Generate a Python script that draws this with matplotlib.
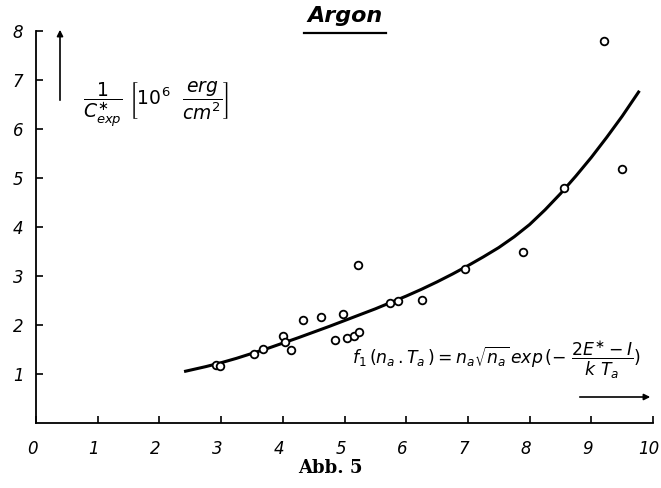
import numpy as np
import matplotlib
matplotlib.use('Agg')
import matplotlib.pyplot as plt
import matplotlib.transforms as mtransforms
from matplotlib.lines import Line2D

# measured points (open circles)
x_pts = [2.92, 2.98, 3.53, 3.68, 4.00, 4.04, 4.14, 4.33, 4.62, 4.97, 4.85, 5.04,
         5.15, 5.24, 5.22, 5.73, 5.87, 6.26, 6.95, 7.90, 8.55, 9.20, 9.50]
y_pts = [1.18, 1.16, 1.40, 1.52, 1.78, 1.65, 1.50, 2.10, 2.17, 2.22, 1.70, 1.74,
         1.78, 1.86, 3.22, 2.45, 2.50, 2.52, 3.15, 3.50, 4.80, 7.80, 5.18]

# fitted curve
x_fit = [2.4, 2.75, 3.0, 3.25, 3.5, 3.75, 4.0, 4.25, 4.5, 4.75, 5.0, 5.25, 5.5, 5.75,
         6.0, 6.25, 6.5, 6.75, 7.0, 7.25, 7.5, 7.75, 8.0, 8.25, 8.5, 8.75, 9.0, 9.25,
         9.5, 9.78]
y_fit = [1.05, 1.15, 1.23, 1.32, 1.42, 1.52, 1.63, 1.74, 1.855, 1.97, 2.09, 2.21, 2.33, 2.46,
         2.59, 2.73, 2.88, 3.04, 3.21, 3.39, 3.58, 3.80, 4.05, 4.35, 4.68, 5.04, 5.42, 5.83,
         6.26, 6.78]

x_ticks = list(range(0, 11))
y_ticks = list(range(1, 9))

plt.rcParams['font.family'] = 'DejaVu Sans'
plt.rcParams['mathtext.fontset'] = 'dejavusans'
plt.rcParams['mathtext.default'] = 'it'

fig = plt.figure(figsize=(6.61, 4.88), dpi=100)
ax = fig.add_axes([36/661, 65/488, 617/661, 392/488])
ax.set_xlim(0, 10)
ax.set_ylim(0, 8)

ax.plot(x_fit, y_fit, 'k-', linewidth=2.2, solid_capstyle='butt')
ax.plot(x_pts, y_pts, 'o', mfc='white', mec='black', ms=5.5, mew=1.3)

ax.spines['right'].set_color('none')
ax.spines['top'].set_color('none')
ax.spines['left'].set_linewidth(1.3)
ax.spines['bottom'].set_linewidth(1.3)
ax.set_xticks(x_ticks)
ax.set_yticks(y_ticks)
ax.set_xticklabels([str(v) for v in x_ticks], style='italic', fontsize=12)
ax.set_yticklabels([str(v) for v in y_ticks], style='italic', fontsize=12)
ax.tick_params(direction='in', length=5, width=1.2, pad=9)
ax.tick_params(axis='x', pad=12)
shift = mtransforms.ScaledTranslation(-4/100, 0, fig.dpi_scale_trans)
for lab in ax.get_xticklabels():
    lab.set_transform(lab.get_transform() + shift)

# title with underline
fig.text(345/661, 1 - 16/488, 'Argon', ha='center', va='center',
         fontsize=16, fontweight='bold', style='italic')
fig.add_artist(Line2D([304/661, 386/661], [1 - 33/488, 1 - 33/488],
                      color='black', linewidth=1.6))

# y axis label with arrow
ax.annotate('', xy=(60/661, 1 - 27/488), xytext=(60/661, 1 - 103/488),
            xycoords='figure fraction',
            arrowprops=dict(arrowstyle='-|>', color='black', lw=1.2, mutation_scale=9))
fig.text(83/661, 1 - 104/488,
         r'$\dfrac{1}{C^{\ast}_{exp}}\ \left[10^6\ \ \dfrac{erg}{cm^2}\right]$',
         ha='left', va='center', fontsize=13.5)

# x axis label with arrow
fig.text(352/661, 1 - 360/488,
         r'$f_1\,(n_a\,.T_a\,) = n_a\sqrt{n_a}\,exp\,(-\ \dfrac{2E^{\ast}-I}{k\ T_a})$',
         ha='left', va='center', fontsize=12.4)
ax.annotate('', xy=(653/661, 1 - 397/488), xytext=(577/661, 1 - 397/488),
            xycoords='figure fraction',
            arrowprops=dict(arrowstyle='-|>', color='black', lw=1.2, mutation_scale=9))

fig.text(330/661, 1 - 468/488, 'Abb. 5', ha='center', va='center',
         fontsize=13, fontweight='bold', family='DejaVu Serif')

plt.savefig('out.png', dpi=100)
